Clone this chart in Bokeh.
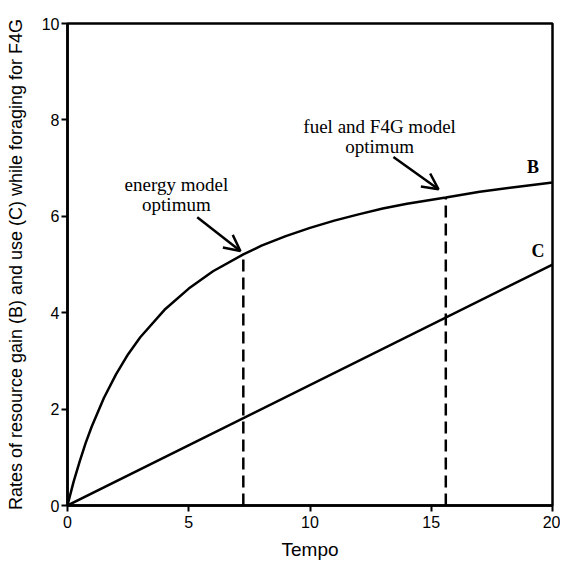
from bokeh.plotting import figure
from bokeh.models import Arrow, OpenHead, Range1d, Label, FixedTicker
from bokeh.embed import file_html
from bokeh.resources import INLINE

# Curve B: rate of resource gain
tempo = [0, 0.1, 0.25, 0.5, 0.75, 1, 1.5, 2, 2.5, 3, 4, 5, 6, 7.25, 8, 9, 10, 11, 12, 13, 14,
         15.6, 17, 18.5, 20]
gain_b = [0, 0.20, 0.49, 0.91, 1.30, 1.64, 2.23, 2.72, 3.14, 3.49, 4.06, 4.50, 4.86, 5.21,
          5.39, 5.59, 5.76, 5.91, 6.04, 6.16, 6.26, 6.39, 6.51, 6.61, 6.70]

# Line C: rate of resource use
tempo_c = [0, 20]
use_c = [0, 5.0]

# Optima (dashed verticals)
opt_x = [7.25, 15.6]
opt_y = [5.21, 6.39]

x_ticks = [0, 5, 10, 15, 20]
y_ticks = [0, 2, 4, 6, 8, 10]

p = figure(width=560, height=562, output_backend="svg", toolbar_location=None,
           x_range=Range1d(0, 20), y_range=Range1d(0, 10),
           min_border_left=67, min_border_top=23, min_border_right=8, min_border_bottom=52)

p.xgrid.visible = False
p.ygrid.visible = False
p.background_fill_color = "white"
p.border_fill_color = "white"
p.outline_line_color = "black"
p.outline_line_width = 2.5
p.outline_line_alpha = 1

for ax in (p.xaxis[0], p.yaxis[0]):
    ax.axis_line_width = 2.5
    ax.axis_line_color = "black"
    ax.major_tick_line_width = 2
    ax.major_tick_line_color = "black"
    ax.major_tick_out = 6
    ax.major_tick_in = 0
    ax.minor_tick_line_color = None
    ax.major_label_text_font = "Liberation Sans"
    ax.major_label_text_font_size = "16px"
    ax.major_label_text_color = "black"
    ax.axis_label_text_font = "Liberation Sans"
    ax.axis_label_text_font_style = "normal"
    ax.axis_label_text_color = "black"

p.xaxis.ticker = FixedTicker(ticks=x_ticks)
p.yaxis.ticker = FixedTicker(ticks=y_ticks)
p.xaxis.axis_label = "Tempo"
p.yaxis.axis_label = "Rates of resource gain (B) and use (C) while foraging for F4G"
p.xaxis.axis_label_text_font_size = "19px"
p.yaxis.axis_label_text_font_size = "18px"
p.xaxis.major_label_standoff = 4
p.yaxis.major_label_standoff = 2
p.xaxis.axis_label_standoff = 8
p.yaxis.axis_label_standoff = 13

p.line(tempo, gain_b, line_color="black", line_width=2.5)
p.line(tempo_c, use_c, line_color="black", line_width=2.5)
p.segment(x0=opt_x, y0=[0, 0], x1=opt_x, y1=opt_y, line_color="black",
          line_width=2.5, line_dash="12 6")

serif = "Liberation Serif"
labels = [
    ("energy model", 4.49, 6.67),
    ("optimum", 4.49, 6.25),
    ("fuel and F4G model", 12.87, 7.87),
    ("optimum", 12.87, 7.45),
]
for txt, lx, ly in labels:
    p.add_layout(Label(x=lx, y=ly, text=txt, text_font=serif, text_font_size="19px",
                       text_align="center", text_baseline="alphabetic", text_color="black"))

for txt, lx, ly in [("B", 19.2, 7.02), ("C", 19.4, 5.28)]:
    p.add_layout(Label(x=lx, y=ly, text=txt, text_font=serif, text_font_size="18px",
                       text_font_style="bold", text_align="center", text_baseline="middle",
                       text_color="black"))

arrows = [((5.35, 5.98), (7.13, 5.28)), ((13.44, 7.23), (15.3, 6.56))]
for (sx, sy), (ex, ey) in arrows:
    p.add_layout(Arrow(x_start=sx, y_start=sy, x_end=ex, y_end=ey,
                       line_color="black", line_width=2.5,
                       end=OpenHead(size=16, line_width=2.5, line_color="black")))

open("out.html", "w").write(file_html(p, INLINE))
